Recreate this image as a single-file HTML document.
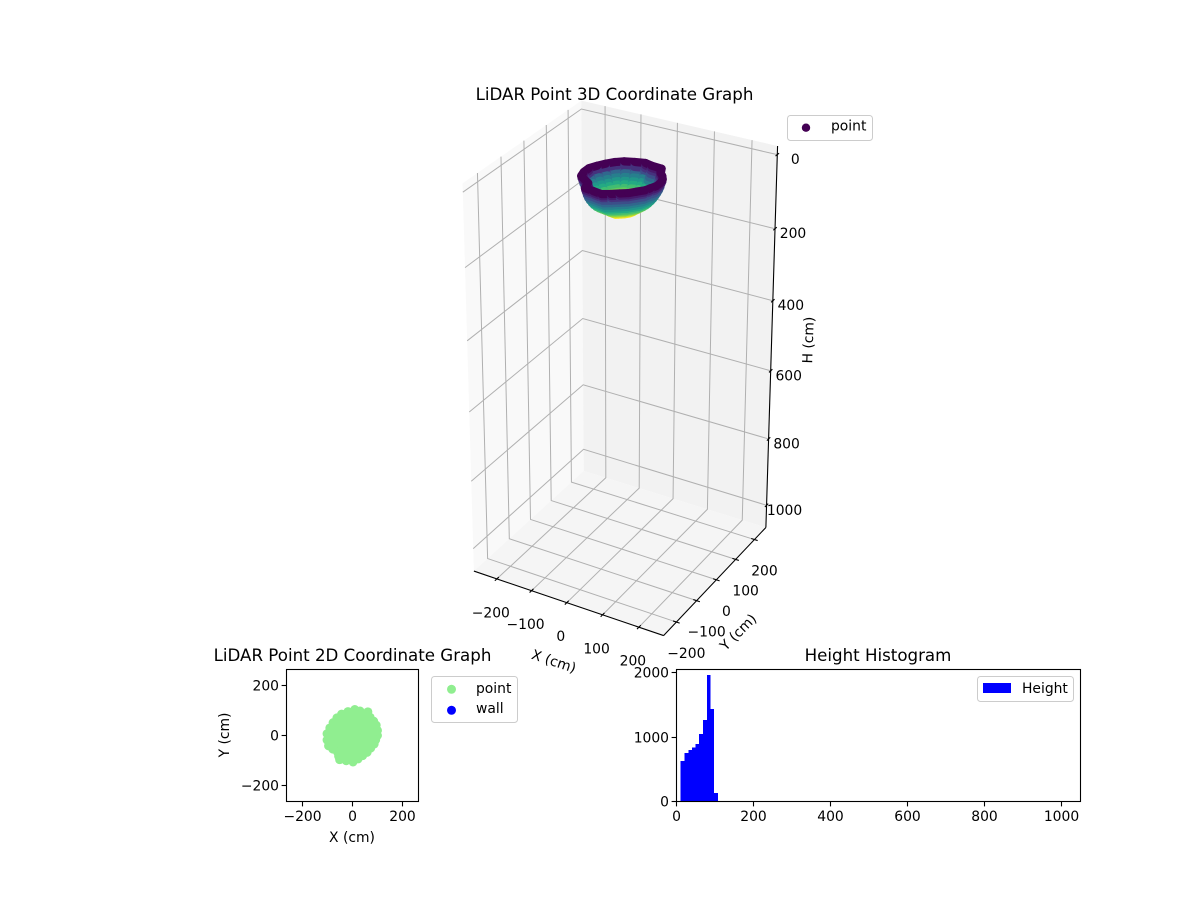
<!DOCTYPE html>
<html lang="en">
<head>
<meta charset="utf-8">
<title>LiDAR Point Graphs</title>
<style>
html,body{margin:0;padding:0;background:#fff;width:1200px;height:900px;overflow:hidden}
svg{display:block}
text{font-family:"DejaVu Sans","Liberation Sans",sans-serif;font-size:13.89px;fill:#000}
.title{font-size:16.67px;text-anchor:middle}
.legend{fill:#fff;fill-opacity:.8;stroke:#ccc;stroke-width:1}
.frame{fill:none;stroke:#000;stroke-width:1.1}
</style>
</head>
<body>
<svg id="figure" xmlns="http://www.w3.org/2000/svg" width="1200" height="900" viewBox="0 0 1200 900">
  <rect width="1200" height="900" fill="#fff"/>

  <g id="plot3d"></g>
  <text class="title" x="614.5" y="100">LiDAR Point 3D Coordinate Graph</text>
  <text text-anchor="middle" transform="translate(554,661) rotate(18.4)" dy="5">X (cm)</text>
  <text text-anchor="middle" transform="translate(738,632) rotate(-45)" dy="5">Y (cm)</text>
  <text text-anchor="middle" transform="translate(808,340) rotate(-88)" dy="5">H (cm)</text>
  <g>
    <rect class="legend" x="787.5" y="115.5" width="85" height="25" rx="3"/>
    <circle cx="806" cy="127.7" r="4.2" fill="#440154"/>
    <text x="831" y="130.5">point</text>
  </g>

  <g id="plot2d"></g>
  <rect class="frame" x="286.5" y="669.5" width="132" height="132"/>
  <text class="title" x="352.5" y="661">LiDAR Point 2D Coordinate Graph</text>
  <text text-anchor="middle" x="352" y="842">X (cm)</text>
  <text text-anchor="middle" transform="translate(229,735) rotate(-90)">Y (cm)</text>
  <g>
    <rect class="legend" x="431.5" y="676.5" width="86" height="46" rx="3"/>
    <circle cx="451.5" cy="689.3" r="4.5" fill="#90EE90"/>
    <text x="476" y="693">point</text>
    <circle cx="451.5" cy="710.3" r="4.5" fill="#0000ff"/>
    <text x="476" y="713">wall</text>
  </g>

  <g id="plotHist"></g>
  <rect class="frame" x="676.5" y="669.5" width="404" height="132"/>
  <text class="title" x="878" y="661">Height Histogram</text>
  <g>
    <rect class="legend" x="977.5" y="676.5" width="96" height="25" rx="3"/>
    <rect x="983" y="683" width="28" height="10" fill="#0000ff"/>
    <text x="1022" y="693">Height</text>
  </g>
</svg>

<script>
// ---------- chart data ----------
const spatialTicks = [-200, -100, 0, 100, 200];
const heightTicks = [0, 200, 400, 600, 800, 1000];
const countTicks = [0, 1000, 2000];
const histBinEdges = [11, 21, 31, 40, 50, 59, 69, 79, 88, 98, 108];
const histCounts = [627, 751, 798, 834, 891, 1047, 1265, 1964, 1435, 130];
const pointsX = [9, 30, 61, 70, 84, 94, 99, 99, 92, 86, 72, 58, 40, 22, 2, -25, -51, -55, -59, -78, -95, -101, -101, -90, -77, -62, -43, -18];
const pointsY = [103, 97, 94, 72, 57, 41, 20, 0, -17, -34, -50, -67, -80, -93, -105, -100, -96, -82, -67, -54, -41, -18, 7, 30, 51, 70, 85, 95];
const ringScales = [0.92, 0.91, 0.89, 0.87, 0.84, 0.8, 0.75, 0.7, 0.64, 0.57, 0.5, 0.43, 0.36, 0.3];
const ringHeights = [12, 18, 24, 32, 40, 48, 56, 63, 70, 76, 81, 86, 91, 96];

// ---------- helpers ----------
const NS = 'http://www.w3.org/2000/svg';
function make(parent, tag, attrs, text) {
  const node = document.createElementNS(NS, tag);
  for (const key in attrs) node.setAttribute(key, attrs[key]);
  if (text !== undefined) node.textContent = text;
  parent.appendChild(node);
  return node;
}
const fmt = v => String(v).replace('-', '\u2212');
const viridis = ['#440154','#482475','#414487','#355f8d','#2a788e','#21918c','#22a884','#44bf70','#7ad151','#bddf26','#fde725'];
function colorAt(t) {
  t = Math.max(0, Math.min(1, t)) * (viridis.length - 1);
  const i = Math.min(viridis.length - 2, Math.floor(t)), f = t - i;
  const rgb = h => [1, 3, 5].map(k => parseInt(h.substr(k, 2), 16));
  const a = rgb(viridis[i]), b = rgb(viridis[i + 1]);
  return 'rgb(' + a.map((c, k) => Math.round(c + (b[k] - c) * f)).join(',') + ')';
}

// ---------- 3D axis function: projective camera calibrated on the box corners ----------
const xLim = [-267, 267], yLim = [-262, 262], zLim = [-23, 1068];
const boxCorners = [
  [0, 0, 0, 463, 183], [0, 1, 0, 580.5, 101], [1, 1, 0, 778, 146],
  [0, 0, 1, 474, 572], [1, 0, 1, 663, 635], [1, 1, 1, 766, 528], [0, 1, 1, 584, 470]
];
function solveCamera() {
  const rows = [], rhs = [];
  boxCorners.forEach(c => {
    const X = c[0] * 2 - 1, Y = c[1] * 2 - 1, Z = c[2] * 2 - 1, u = c[3] / 1000, v = c[4] / 1000;
    rows.push([X, Y, Z, 1, 0, 0, 0, 0, -u * X, -u * Y, -u * Z]); rhs.push(u);
    rows.push([0, 0, 0, 0, X, Y, Z, 1, -v * X, -v * Y, -v * Z]); rhs.push(v);
  });
  const n = 11, M = [];
  for (let i = 0; i < n; i++) {
    M.push(new Array(n + 1).fill(0));
    rows.forEach((r, k) => {
      for (let j = 0; j < n; j++) M[i][j] += r[i] * r[j];
      M[i][n] += r[i] * rhs[k];
    });
  }
  for (let i = 0; i < n; i++) {
    let best = i;
    for (let k = i + 1; k < n; k++) if (Math.abs(M[k][i]) > Math.abs(M[best][i])) best = k;
    const tmp = M[i]; M[i] = M[best]; M[best] = tmp;
    for (let k = 0; k < n; k++) {
      if (k === i) continue;
      const f = M[k][i] / M[i][i];
      for (let j = i; j <= n; j++) M[k][j] -= f * M[i][j];
    }
  }
  return M.map((r, i) => r[n] / r[i]);
}
const cam = solveCamera();
function project(x, y, z) {
  const X = (x - xLim[0]) / (xLim[1] - xLim[0]) * 2 - 1;
  const Y = (y - yLim[0]) / (yLim[1] - yLim[0]) * 2 - 1;
  const Z = (z - zLim[0]) / (zLim[1] - zLim[0]) * 2 - 1;
  const w = cam[8] * X + cam[9] * Y + cam[10] * Z + 1;
  return [1000 * (cam[0] * X + cam[1] * Y + cam[2] * Z + cam[3]) / w,
          1000 * (cam[4] * X + cam[5] * Y + cam[6] * Z + cam[7]) / w];
}
const pathOf = pts => 'M' + pts.map(p => p[0].toFixed(2) + ' ' + p[1].toFixed(2)).join('L');

// ---------- 3D plot ----------
const g3 = document.getElementById('plot3d');
const [x0, x1] = xLim, [y0, y1] = yLim, [z0, z1] = zLim;
let el;

el = make(g3, 'path', { d: pathOf([project(x0,y0,z0), project(x0,y1,z0), project(x0,y1,z1), project(x0,y0,z1)]) + 'Z', fill: '#f9f9f9' });


el = make(g3, 'path', { d: pathOf([project(x0,y1,z0), project(x1,y1,z0), project(x1,y1,z1), project(x0,y1,z1)]) + 'Z', fill: '#f2f2f2' });


el = make(g3, 'path', { d: pathOf([project(x0,y0,z1), project(x1,y0,z1), project(x1,y1,z1), project(x0,y1,z1)]) + 'Z', fill: '#f5f5f5' });



const gridStyle = { fill: 'none', stroke: '#b0b0b0', 'stroke-width': 1 };
spatialTicks.forEach(v => {
  el = make(g3, 'path', Object.assign({ d: pathOf([project(v,y0,z1), project(v,y1,z1), project(v,y1,z0)]) }, gridStyle));
  
  
  el = make(g3, 'path', Object.assign({ d: pathOf([project(x1,v,z1), project(x0,v,z1), project(x0,v,z0)]) }, gridStyle));
  
  
});
heightTicks.forEach(v => {
  el = make(g3, 'path', Object.assign({ d: pathOf([project(x0,y0,v), project(x0,y1,v), project(x1,y1,v)]) }, gridStyle));
  
  
});

const axisStyle = { fill: 'none', stroke: '#000', 'stroke-width': 1.1 };
el = make(g3, 'path', Object.assign({ d: pathOf([project(x0,y0,z1), project(x1,y0,z1)]) }, axisStyle));


el = make(g3, 'path', Object.assign({ d: pathOf([project(x1,y0,z1), project(x1,y1,z1)]) }, axisStyle));


el = make(g3, 'path', Object.assign({ d: pathOf([project(x1,y1,z0), project(x1,y1,z1)]) }, axisStyle));



const tickDelta = 9;
spatialTicks.forEach(v => {
  el = make(g3, 'path', Object.assign({ d: pathOf([project(v,y0-tickDelta,z1), project(v,y0+tickDelta,z1)]) }, axisStyle));
  
  
  const px = project(v, y0, z1);
  el = make(g3, 'text', { x: px[0] - 6, y: px[1] + 38.5, 'text-anchor': 'middle' }, fmt(v));
  
  

  el = make(g3, 'path', Object.assign({ d: pathOf([project(x1-tickDelta,v,z1), project(x1+tickDelta,v,z1)]) }, axisStyle));
  
  
  const py = project(x1, v, z1);
  el = make(g3, 'text', { x: py[0] + 10, y: py[1] + 36, 'text-anchor': 'middle' }, fmt(v));
  
  
});
heightTicks.forEach(v => {
  el = make(g3, 'path', Object.assign({ d: pathOf([project(x1,y1-tickDelta,v), project(x1,y1+tickDelta,v)]) }, axisStyle));
  
  
  const pz = project(x1, y1, v);
  el = make(g3, 'text', { x: pz[0] + 18, y: pz[1] + 9.5, 'text-anchor': 'middle' }, fmt(v));
  
  
});

// scatter surface: the recorded outline scaled on each height ring, painted far to near
const cloud = [];
ringScales.forEach((s, r) => {
  pointsX.forEach((px, i) => {
    const j = (i + 1) % pointsX.length;
    const ax = px * s, ay = pointsY[i] * s, bx = pointsX[j] * s, by = pointsY[j] * s, z = ringHeights[r];
    cloud.push({ ax, ay, bx, by, z, depth: ((ax + bx) / 2 - (ay + by) / 2) / 370 - 0.5 * z / 545 });
  });
});
cloud.sort((a, b) => a.depth - b.depth);
const zMin = Math.min(...ringHeights), zMax = Math.max(...ringHeights);
const gCloud = make(g3, 'g', {});


cloud.forEach(p => {
  const a = project(p.ax, p.ay, p.z), b = project(p.bx, p.by, p.z);
  el = make(gCloud, 'path', { d: pathOf([a, b]), fill: 'none', stroke: colorAt((p.z - zMin) / (zMax - zMin)), 'stroke-width': 8.2, 'stroke-linecap': 'round' });
  
  
});

// ---------- 2D plot ----------
const g2 = document.getElementById('plot2d');
const lim2 = [-262, 262];
const sx2 = v => 286.5 + (v - lim2[0]) / (lim2[1] - lim2[0]) * 132;
const sy2 = v => 801.5 - (v - lim2[0]) / (lim2[1] - lim2[0]) * 132;
el = make(g2, 'polygon', { points: pointsX.map((v, i) => sx2(v).toFixed(2) + ',' + sy2(pointsY[i]).toFixed(2)).join(' '), fill: '#90EE90' });


pointsX.forEach((v, i) => {
  el = make(g2, 'circle', { cx: sx2(v).toFixed(2), cy: sy2(pointsY[i]).toFixed(2), r: 4.5, fill: '#90EE90' });
  
  
});
spatialTicks.filter(v => v % 200 === 0).forEach(v => {
  const tx = Math.round(sx2(v) - 0.5) + 0.5, ty = Math.round(sy2(v) - 0.5) + 0.5;
  el = make(g2, 'line', { x1: tx, x2: tx, y1: 801.5, y2: 806.4, stroke: '#000', 'stroke-width': 1.1 });
  
  
  el = make(g2, 'text', { x: tx, y: 821, 'text-anchor': 'middle' }, fmt(v));
  
  
  el = make(g2, 'line', { x1: 281.6, x2: 286.5, y1: ty, y2: ty, stroke: '#000', 'stroke-width': 1.1 });
  
  
  el = make(g2, 'text', { x: 279, y: ty + 5, 'text-anchor': 'end' }, fmt(v));
  
  
});

// ---------- histogram ----------
const gh = document.getElementById('plotHist');
const histXLim = [0, 1050], histYLim = [0, 2048];
const sxh = v => 676.5 + (v - histXLim[0]) / (histXLim[1] - histXLim[0]) * 404;
const syh = v => 801.5 - (v - histYLim[0]) / (histYLim[1] - histYLim[0]) * 132;
histCounts.forEach((c, i) => {
  const a = sxh(histBinEdges[i]), b = sxh(histBinEdges[i + 1]);
  el = make(gh, 'rect', { x: a, y: syh(c), width: b - a, height: 801.5 - syh(c), fill: '#0000ff', 'shape-rendering': 'crispEdges' });
  
  
});
heightTicks.forEach(v => {
  const tx = Math.round(sxh(v) - 0.5) + 0.5;
  el = make(gh, 'line', { x1: tx, x2: tx, y1: 801.5, y2: 806.4, stroke: '#000', 'stroke-width': 1.1 });
  
  
  el = make(gh, 'text', { x: tx, y: 821, 'text-anchor': 'middle' }, fmt(v));
  
  
});
countTicks.forEach(v => {
  const ty = Math.round(syh(v) - 0.5) + 0.5;
  el = make(gh, 'line', { x1: 671.6, x2: 676.5, y1: ty, y2: ty, stroke: '#000', 'stroke-width': 1.1 });
  
  
  el = make(gh, 'text', { x: 669, y: ty + 5, 'text-anchor': 'end' }, fmt(v));
  
  
});
</script>
</body>
</html>
